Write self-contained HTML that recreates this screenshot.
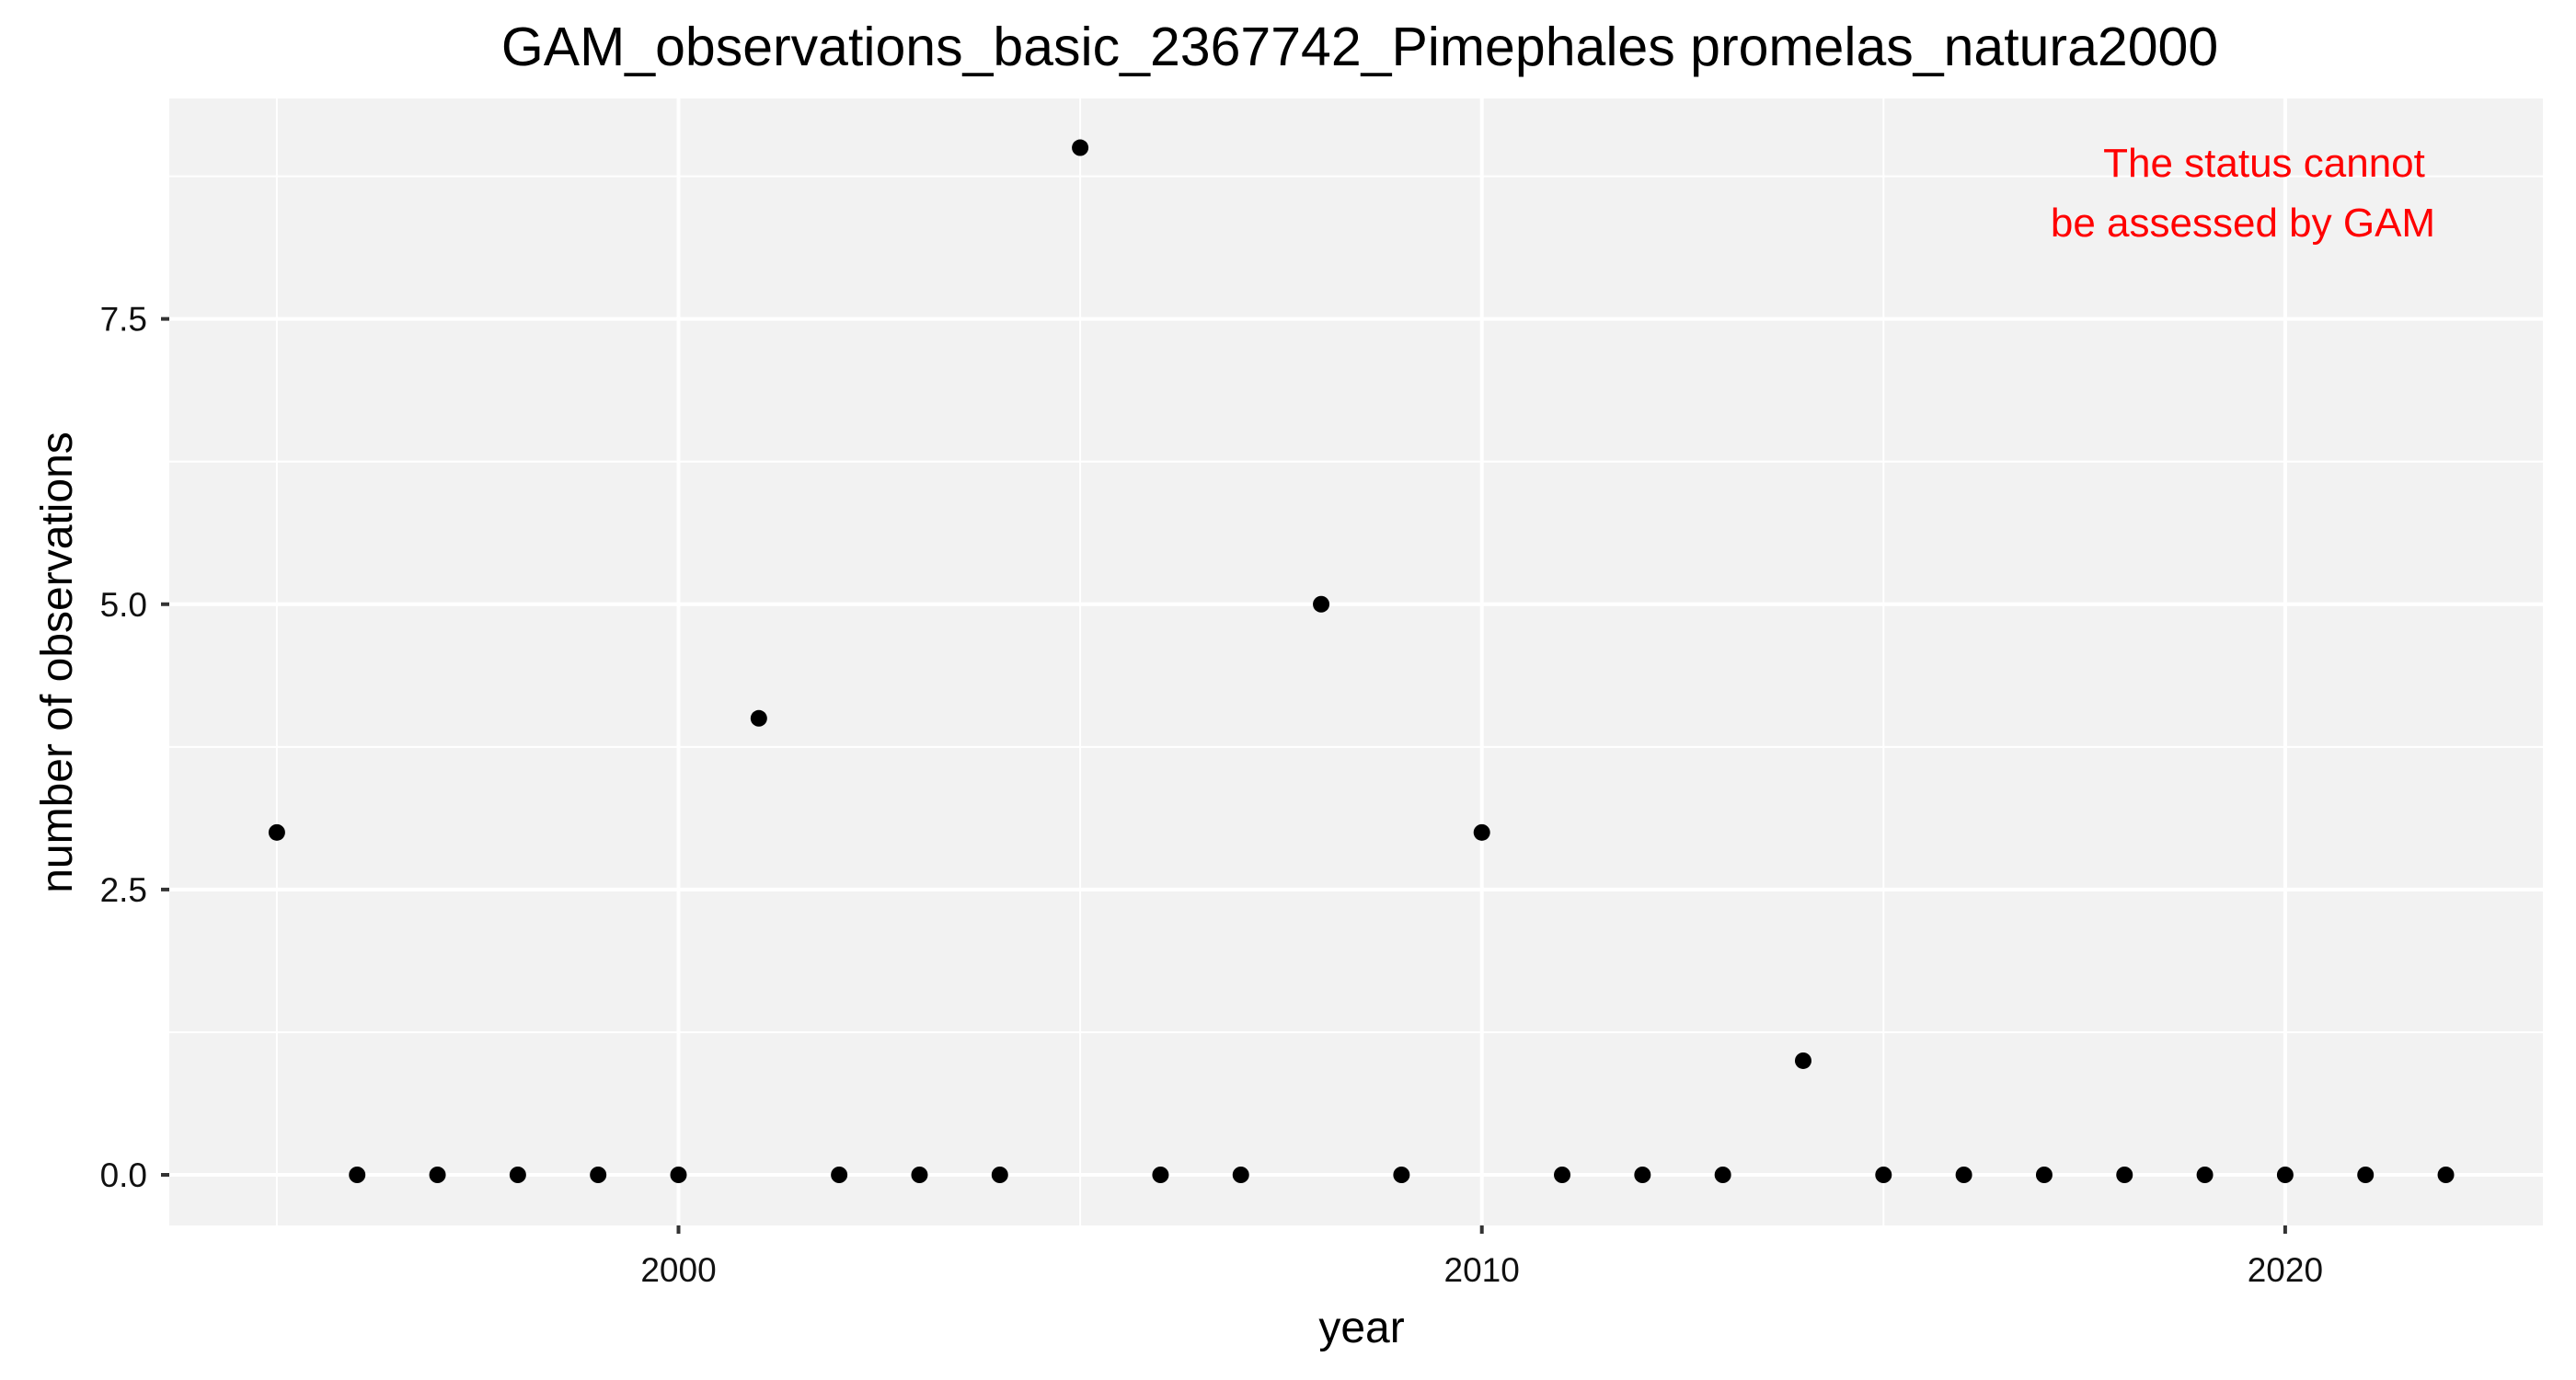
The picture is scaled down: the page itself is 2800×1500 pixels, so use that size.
<!DOCTYPE html>
<html><head><meta charset="utf-8"><style>body{margin:0;background:#fff}svg{display:block;font-family:"Liberation Sans",Arial,sans-serif}</style></head>
<body>
<svg id="chart" width="2800" height="1500" viewBox="0 0 2800 1500">
<rect x="184" y="107" width="2580" height="1225" fill="#f2f2f2"/>
<g id="grid"></g><g id="pts"></g><g id="axes"></g>
<text x="1478" y="71" font-size="59" text-anchor="middle">GAM_observations_basic_2367742_Pimephales promelas_natura2000</text>
<text x="1480" y="1459" font-size="48" text-anchor="middle">year</text>
<text transform="translate(78,720) rotate(-90)" font-size="48" text-anchor="middle">number of observations</text>
<text x="2461" y="192" font-size="44" fill="#ff0000" text-anchor="middle">The status cannot</text>
<text x="2438" y="257" font-size="44" fill="#ff0000" text-anchor="middle">be assessed by GAM</text>
</svg>
<script>
const years=[1995,1996,1997,1998,1999,2000,2001,2002,2003,2004,2005,2006,2007,2008,2009,2010,2011,2012,2013,2014,2015,2016,2017,2018,2019,2020,2021,2022];
const counts=[3,0,0,0,0,0,4,0,0,0,9,0,0,5,0,3,0,0,0,1,0,0,0,0,0,0,0,0];
const xTicks=[2000,2010,2020];
const xMinor=[1995,2005,2015];
const yTicks=[0,2.5,5,7.5];
const yTickLabels=["0.0","2.5","5.0","7.5"];
const yMinor=[1.25,3.75,6.25,8.75];
const NS="http://www.w3.org/2000/svg";
const X=v=>737.5+(v-2000)*87.32;
const Y=v=>1277-v*124.05;
function mk(p,t,a){const e=document.createElementNS(NS,t);for(const k in a)e.setAttribute(k,a[k]);document.getElementById(p).appendChild(e);return e;}
xMinor.forEach(v=>{const e=mk('grid','line',{x1:X(v),x2:X(v),y1:107,y2:1332,stroke:'#fff','stroke-width':2});

});
yMinor.forEach(v=>{const e=mk('grid','line',{x1:184,x2:2764,y1:Y(v),y2:Y(v),stroke:'#fff','stroke-width':2});

});
xTicks.forEach(v=>{const e=mk('grid','line',{x1:X(v),x2:X(v),y1:107,y2:1332,stroke:'#fff','stroke-width':4});


const t=mk('axes','line',{x1:X(v),x2:X(v),y1:1332,y2:1341,stroke:'#333','stroke-width':4});


const l=mk('axes','text',{x:X(v),y:1393,'font-size':37,'text-anchor':'middle',fill:'#111'});l.textContent=v;

});
yTicks.forEach((v,i)=>{const e=mk('grid','line',{x1:184,x2:2764,y1:Y(v),y2:Y(v),stroke:'#fff','stroke-width':4});


const t=mk('axes','line',{x1:175,x2:184,y1:Y(v),y2:Y(v),stroke:'#333','stroke-width':4});


const l=mk('axes','text',{x:160,y:Y(v)+13,'font-size':37,'text-anchor':'end',fill:'#111'});l.textContent=yTickLabels[i];

});
years.forEach((y,i)=>{const c=mk('pts','circle',{cx:X(y),cy:Y(counts[i]),r:9,fill:'#000'});

});
</script>
</body></html>
